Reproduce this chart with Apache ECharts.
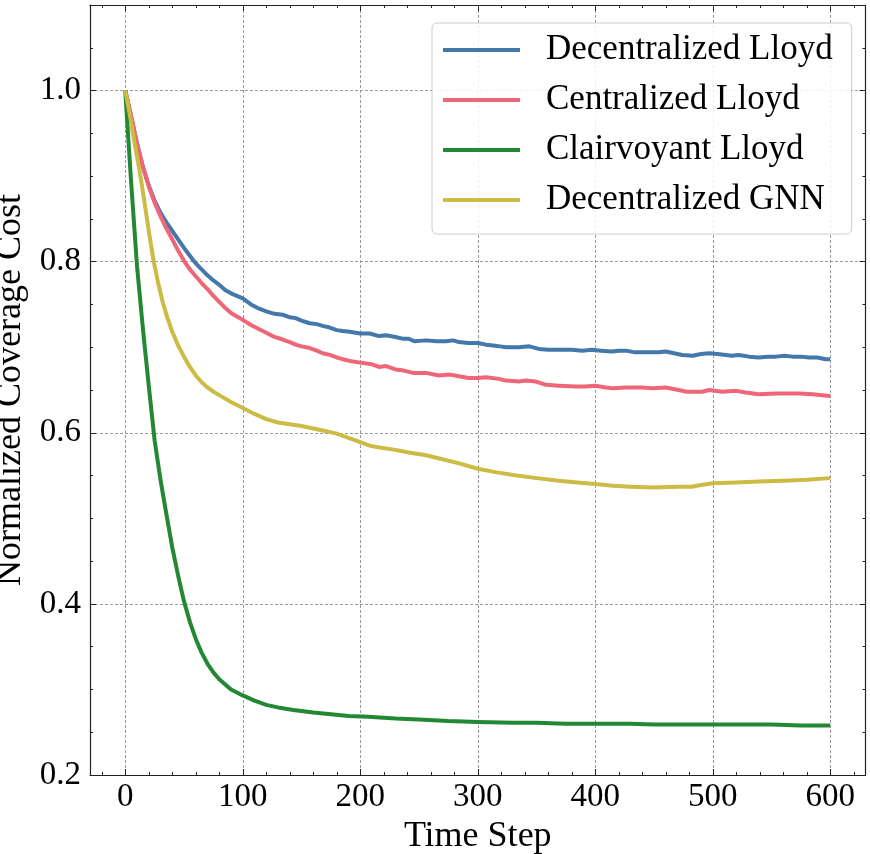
<!DOCTYPE html>
<html><head><meta charset="utf-8">
<script src="https://cdn.jsdelivr.net/npm/echarts@6/dist/echarts.min.js"></script>
<style>html,body{margin:0;padding:0;background:#fff}#chart{width:870px;height:854px}</style>
</head><body><div id="chart"></div>
<script>
const seriesNames = ['Decentralized Lloyd', 'Centralized Lloyd', 'Clairvoyant Lloyd', 'Decentralized GNN'];
const seriesColors = ['#4477AA', '#EE6677', '#228833', '#CCBB44'];

const tDecLloyd = [0,5,10,15,20,25,30,35,40,45,50,55,60,65,70,75,80,85,90,95,100,107,114,120,127,134,140,145,150,157,163,168,174,180,185,191,196,200,208,216,222,230,236,241,246,256,265,273,279,284,292,300,307,313,319,324,330,335,344,352,360,369,380,389,397,405,414,420,426,434,444,454,460,467,474,483,490,497,504,511,516,522,531,539,547,554,561,568,575,582,589,596,600];
const vDecLloyd = [1.000,0.970,0.938,0.911,0.889,0.871,0.857,0.846,0.836,0.826,0.816,0.807,0.798,0.791,0.784,0.778,0.773,0.767,0.763,0.760,0.757,0.750,0.745,0.742,0.739,0.738,0.735,0.734,0.731,0.728,0.727,0.725,0.723,0.720,0.719,0.718,0.717,0.716,0.716,0.713,0.714,0.712,0.710,0.710,0.707,0.708,0.707,0.707,0.708,0.706,0.705,0.705,0.703,0.702,0.701,0.700,0.700,0.700,0.701,0.698,0.697,0.697,0.697,0.696,0.697,0.696,0.695,0.696,0.696,0.694,0.694,0.694,0.695,0.693,0.691,0.690,0.692,0.693,0.692,0.691,0.690,0.691,0.689,0.688,0.689,0.689,0.690,0.689,0.689,0.688,0.688,0.686,0.686];

const tCenLloyd = [0,5,10,15,20,25,30,35,40,45,50,55,60,65,70,75,80,85,90,95,100,107,114,120,127,134,140,145,150,157,163,168,174,180,185,191,200,210,216,222,230,236,245,256,267,276,284,292,300,307,318,324,335,341,349,358,369,383,392,400,409,415,426,440,449,460,471,478,491,497,508,520,528,539,554,562,573,585,593,600];
const vCenLloyd = [1.000,0.970,0.938,0.911,0.888,0.869,0.853,0.839,0.826,0.813,0.801,0.791,0.783,0.775,0.768,0.760,0.753,0.746,0.740,0.736,0.732,0.726,0.721,0.717,0.712,0.709,0.706,0.703,0.701,0.699,0.696,0.693,0.691,0.688,0.686,0.684,0.682,0.680,0.677,0.678,0.674,0.673,0.670,0.670,0.667,0.668,0.666,0.664,0.664,0.665,0.663,0.661,0.660,0.661,0.660,0.656,0.655,0.654,0.654,0.655,0.653,0.652,0.653,0.653,0.652,0.653,0.650,0.648,0.648,0.650,0.648,0.649,0.647,0.645,0.646,0.646,0.646,0.645,0.644,0.643];

const tClairLloyd = [0,2,5,10,15,20,25,30,35,40,45,50,55,60,65,70,75,80,90,100,110,120,130,143,160,175,190,207,230,250,275,300,330,350,375,400,430,450,480,500,530,550,575,600];
const vClairLloyd = [1.000,0.957,0.893,0.795,0.722,0.655,0.591,0.545,0.505,0.466,0.433,0.403,0.379,0.359,0.343,0.330,0.320,0.312,0.300,0.293,0.287,0.282,0.279,0.276,0.273,0.271,0.269,0.268,0.266,0.265,0.263,0.262,0.261,0.261,0.260,0.260,0.260,0.259,0.259,0.259,0.259,0.259,0.258,0.258];

const tDecGNN = [0,4,8,12,16,20,24,28,32,36,40,45,50,55,60,65,70,75,80,90,100,110,120,130,140,150,160,170,180,190,200,208,215,230,241,255,270,285,300,315,333,350,369,385,400,415,430,450,470,482,490,500,520,539,560,580,600];
const vDecGNN = [1.000,0.971,0.938,0.908,0.873,0.836,0.802,0.775,0.752,0.734,0.718,0.702,0.689,0.677,0.667,0.659,0.653,0.648,0.644,0.636,0.629,0.622,0.616,0.612,0.610,0.608,0.605,0.602,0.599,0.594,0.589,0.585,0.583,0.580,0.577,0.574,0.569,0.564,0.558,0.554,0.550,0.547,0.544,0.542,0.540,0.538,0.537,0.536,0.537,0.537,0.539,0.541,0.542,0.543,0.544,0.545,0.547];

const xMajorTicks = [0,100,200,300,400,500,600];
const xMinorTicks = [-20,20,40,60,80,120,140,160,180,220,240,260,280,320,340,360,380,420,440,460,480,520,540,560,580,620];
const yMajorTicks = [0.2,0.4,0.6,0.8,1.0];
const yMinorTicks = [0.25,0.3,0.35,0.45,0.5,0.55,0.65,0.7,0.75,0.85,0.9,0.95,1.05];

const FONT = 'Liberation Serif';
const X_MIN = -30, X_MAX = 630, Y_MIN = 0.2, Y_MAX = 1.1;
const frameLine = {show:true, onZero:false, lineStyle:{color:'#222', width:1.2}};
const noLine = {show:false, onZero:false};
const gridLine = {show:true, lineStyle:{color:'#9a9a9a', width:1, type:[3,2]}};

function makeAxis(kind, pos, ticks, len, isMain) {
  const ax = {
    type:'value',
    min: kind==='x' ? X_MIN : Y_MIN,
    max: kind==='x' ? X_MAX : Y_MAX,
    position: pos,
    axisLine: isMain !== null ? frameLine : noLine,
    axisTick: {show:true, inside:true, length:len, customValues:ticks, lineStyle:{color:'#222', width:1}},
    axisLabel: {show:false},
    splitLine: {show:false},
    minorTick: {show:false},
    axisPointer: {show:false}
  };
  if (isMain === true) {
    ax.splitLine = gridLine;
    ax.axisLabel = {
      show:true, customValues:ticks, fontFamily:FONT, fontSize:33, color:'#000',
      margin: kind==='x' ? 6 : 9,
      formatter: kind==='x' ? (v => String(Math.round(v))) : (v => v.toFixed(1))
    };
  }
  return ax;
}

const xAxes = [
  makeAxis('x','bottom',xMajorTicks,6,true),
  makeAxis('x','bottom',xMinorTicks,3,null),
  makeAxis('x','top',xMajorTicks,6,false),
  makeAxis('x','top',xMinorTicks,3,null)
];
Object.assign(xAxes[0], {name:'Time Step', nameLocation:'middle', nameGap:36,
  nameTextStyle:{fontFamily:FONT, fontSize:36, color:'#000'}});
const yAxes = [
  makeAxis('y','left',yMajorTicks,6,true),
  makeAxis('y','left',yMinorTicks,3,null),
  makeAxis('y','right',yMajorTicks,6,false),
  makeAxis('y','right',yMinorTicks,3,null)
];
Object.assign(yAxes[0], {name:'Normalized Coverage Cost', nameLocation:'middle', nameGap:52, nameRotate:90,
  nameTextStyle:{fontFamily:FONT, fontSize:36, color:'#000'}});

const tData = [tDecLloyd, tCenLloyd, tClairLloyd, tDecGNN];
const vData = [vDecLloyd, vCenLloyd, vClairLloyd, vDecGNN];
const series = seriesNames.map((name, i) => ({
  name, type:'line', xAxisIndex:0, yAxisIndex:0,
  data: tData[i].map((t, k) => [t, vData[i][k]]),
  showSymbol:false, symbol:'none', smooth:false,
  color: seriesColors[i],
  lineStyle:{width:4, color:seriesColors[i], join:'round'},
  itemStyle:{color:seriesColors[i]},
  z: 3 + i
}));

const chart = echarts.init(document.getElementById('chart'), null, {renderer:'canvas'});
chart.setOption({
  animation:false,
  backgroundColor:'#fff',
  grid:{left:90, right:4.5, top:5, bottom:79, containLabel:false, outerBoundsMode:'none'},
  xAxis:xAxes,
  yAxis:yAxes,
  legend:{
    left:432, top:23, orient:'vertical',
    data: seriesNames.map(n => ({name:n, icon:'rect'})),
    itemWidth:77, itemHeight:4, itemGap:10,
    textStyle:{fontFamily:FONT, fontSize:35, color:'#000', lineHeight:40, padding:[0,0,0,21]},
    backgroundColor:'rgba(255,255,255,0.85)', borderColor:'#cccccc', borderWidth:1, borderRadius:5,
    padding:[7,19,14,11]
  },
  series
});
</script>
</body></html>
